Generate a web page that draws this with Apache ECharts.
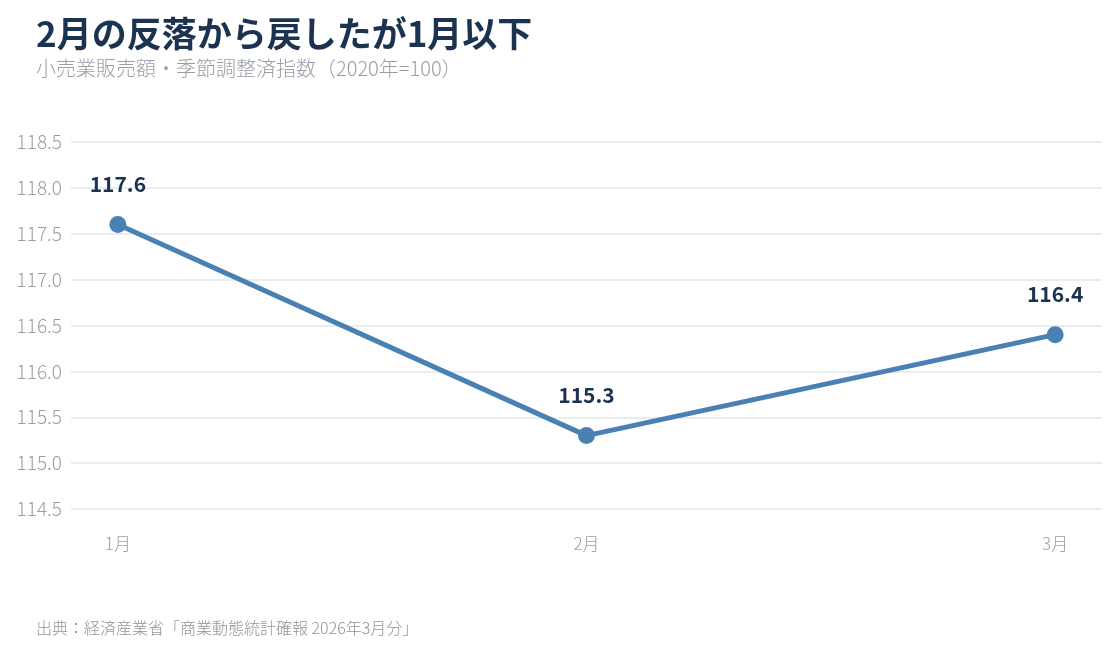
<!DOCTYPE html>
<html><head><meta charset="utf-8">
<script src="https://cdn.jsdelivr.net/npm/echarts@6/dist/echarts.min.js"></script>
<style>html,body{margin:0;padding:0;background:#fff}#c{width:1118px;height:649px}</style>
</head><body><div id="c"></div>
<script>
const categories = ['1月', '2月', '3月'];
const values = [117.6, 115.3, 116.4];
const yTicks = { min: 114.5, max: 118.5, interval: 0.5 };
const titleText = '2月の反落から戻したが1月以下';
const subtitleText = '小売業販売額・季節調整済指数（2020年=100）';
const sourceText = '出典：経済産業省「商業動態統計確報 2026年3月分」';

const FONT = '"Noto Sans CJK JP", "Noto Sans", sans-serif';
const chart = echarts.init(document.getElementById('c'));
chart.setOption({
  backgroundColor: '#ffffff',
  textStyle: { fontFamily: FONT },
  title: [
    { text: titleText, left: 36, top: 16, padding: 0,
      textStyle: { fontSize: 35, fontWeight: 'bold', color: '#1b3350', fontFamily: FONT } },
    { text: subtitleText, left: 36, top: 58, padding: 0,
      textStyle: { fontSize: 20, fontWeight: 300, color: '#9a9ea4', fontFamily: FONT } },
    { text: sourceText, left: 36, top: 620, padding: 0,
      textStyle: { fontSize: 16, fontWeight: 300, color: '#8f949a', fontFamily: FONT } }
  ],
  grid: { left: 71, right: 16, top: 142, bottom: 140 },
  xAxis: {
    type: 'value', min: -0.1, max: 2.1,
    axisLine: { show: false }, axisTick: { show: false }, splitLine: { show: false },
    axisLabel: { customValues: categories.map((c, i) => i), formatter: v => categories[Math.round(v)] || '',
      color: '#9a9ea4', fontSize: 17, fontWeight: 300, margin: 26, fontFamily: FONT }
  },
  yAxis: {
    type: 'value', min: yTicks.min, max: yTicks.max, interval: yTicks.interval,
    axisLine: { show: false }, axisTick: { show: false },
    splitLine: { lineStyle: { color: '#e8edf1', width: 2 } },
    axisLabel: { formatter: v => v.toFixed(1), color: '#9a9ea4', fontSize: 19, fontWeight: 300, margin: 9, fontFamily: FONT }
  },
  series: [{
    type: 'line',
    data: values.map((v, i) => [i, v]),
    symbol: 'circle', symbolSize: 17,
    lineStyle: { color: '#4a81b4', width: 5 },
    itemStyle: { color: '#4a81b4' },
    label: { show: true, position: 'top', distance: 22, formatter: p => p.value[1].toFixed(1),
      fontSize: 21, fontWeight: 'bold', color: '#1b3350', fontFamily: FONT },
    animation: false
  }],
  animation: false
});
</script></body></html>
